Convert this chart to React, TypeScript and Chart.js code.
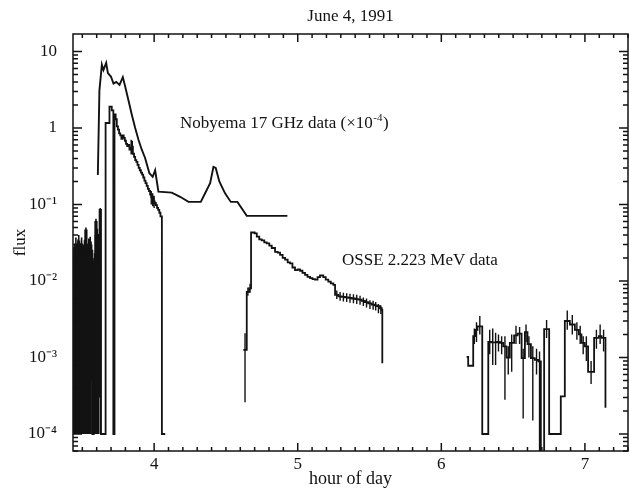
import React, { useEffect, useRef } from 'react';
import { Chart, registerables } from 'chart.js';

Chart.register(...registerables);

const FONT = '"Liberation Serif", "Times New Roman", serif';
const INK = '#121212';

// axis ranges and ticks
const xMin = 3.435;
const xMax = 7.3;
const yMin = 6.0e-5;
const yMax = 16.9;
const xTickValues = [4, 5, 6, 7];
const xTickLabels = ['4', '5', '6', '7'];
const yTickValues = [1e-4, 1e-3, 1e-2, 1e-1, 1, 10];
const yTickLabels = ['10⁻⁴', '10⁻³', '10⁻²', '10⁻¹', '1', '10'];

// Nobeyama 17 GHz (x1e-4)
const nobHours = [3.608, 3.619, 3.636, 3.647, 3.666, 3.678, 3.699, 3.717, 3.736, 3.759, 3.782, 3.798, 3.821, 3.845, 3.868, 3.891, 3.914, 3.937, 3.967, 3.990, 4.007, 4.030, 4.123, 4.181, 4.239, 4.325, 4.355, 4.390, 4.413, 4.429, 4.454, 4.494, 4.534, 4.580, 4.645, 4.928];
const nobFlux = [0.243, 3.1, 6.7, 5.7, 7.1, 5.2, 4.7, 3.8, 4.0, 3.65, 4.6, 3.5, 2.3, 1.48, 1.0, 0.70, 0.52, 0.405, 0.256, 0.23, 0.28, 0.147, 0.143, 0.126, 0.108, 0.108, 0.14, 0.19, 0.31, 0.30, 0.20, 0.14, 0.108, 0.108, 0.071, 0.071];

// OSSE 2.223 MeV (bin starts, step histogram)
const osseEarlyHours = [3.44, 3.45, 3.46, 3.47, 3.48, 3.49, 3.50, 3.51, 3.52, 3.53, 3.54, 3.55, 3.56, 3.57, 3.58, 3.59, 3.60, 3.61, 3.62, 3.63, 3.662, 3.689, 3.705, 3.716, 3.724, 3.732, 3.740, 3.748, 3.756, 3.764, 3.772, 3.780, 3.788, 3.796, 3.804, 3.812, 3.820, 3.828, 3.836, 3.844, 3.852, 3.860, 3.868, 3.876, 3.884, 3.892, 3.900, 3.908, 3.916, 3.924, 3.932, 3.940, 3.948, 3.956, 3.964, 3.972, 3.980, 3.988, 3.996, 4.004, 4.012, 4.020, 4.028, 4.036, 4.044, 4.054, 4.077];
const osseEarlyFlux = [0.012, 0.03, 0.02, 0.033, 0.025, 0.03, 0.018, 0.028, 0.046, 0.022, 0.03, 0.032, 0.025, 1e-4, 0.018, 0.059, 0.04, 0.02, 0.085, 1e-4, 1.16, 1.9, 1.7, 1e-4, 1.5, 1.3, 1.05, 0.95, 0.85, 0.80, 0.72, 0.80, 0.74, 0.68, 0.62, 0.58, 0.60, 0.52, 0.55, 0.57, 0.46, 0.42, 0.38, 0.36, 0.33, 0.30, 0.28, 0.26, 0.245, 0.225, 0.205, 0.19, 0.175, 0.16, 0.15, 0.135, 0.125, 0.118, 0.11, 0.105, 0.098, 0.09, 0.085, 0.078, 0.07, 1e-4, 1e-4];

const osseMidHours = [4.621, 4.645, 4.661, 4.675, 4.700, 4.715, 4.732, 4.749, 4.767, 4.784, 4.802, 4.819, 4.842, 4.860, 4.877, 4.895, 4.912, 4.930, 4.946, 4.963, 4.981, 5.000, 5.016, 5.033, 5.051, 5.068, 5.086, 5.103, 5.120, 5.138, 5.155, 5.178, 5.195, 5.213, 5.230, 5.248, 5.260, 5.283, 5.306, 5.329, 5.352, 5.376, 5.400, 5.422, 5.445, 5.468, 5.490, 5.515, 5.535, 5.550, 5.573, 5.585, 5.589];
const osseMidFlux = [1.26e-3, 7.2e-3, 8.0e-3, 0.043, 0.042, 0.038, 0.035, 0.034, 0.032, 0.031, 0.029, 0.027, 0.024, 0.0235, 0.022, 0.020, 0.019, 0.0175, 0.017, 0.015, 0.0139, 0.0142, 0.0136, 0.0128, 0.012, 0.0113, 0.0109, 0.0106, 0.0104, 0.0112, 0.0118, 0.0112, 0.0104, 0.0098, 0.0093, 0.0089, 0.0066, 0.0063, 0.0062, 0.0061, 0.006, 0.0059, 0.0058, 0.0057, 0.0055, 0.0053, 0.0051, 0.0049, 0.0048, 0.0047, 0.0044, 0.0042, 8.4e-4];

const osseLateHours = [6.176, 6.187, 6.222, 6.239, 6.252, 6.285, 6.327, 6.348, 6.368, 6.388, 6.408, 6.431, 6.454, 6.477, 6.507, 6.531, 6.559, 6.582, 6.600, 6.624, 6.651, 6.675, 6.693, 6.716, 6.751, 6.832, 6.860, 6.895, 6.930, 6.958, 6.976, 6.999, 7.022, 7.064, 7.097, 7.116, 7.143];
const osseLateFlux = [1.02e-3, 7.8e-4, 1.9e-3, 2.3e-3, 2.55e-3, 1e-4, 1.6e-3, 1.58e-3, 1.58e-3, 1.6e-3, 1.55e-3, 1.4e-3, 1.0e-3, 1.55e-3, 1.95e-3, 2.05e-3, 9.8e-4, 2.15e-3, 1.5e-3, 9.8e-4, 9.3e-4, 8.9e-4, 3e-5, 2.35e-3, 1e-4, 3.1e-4, 3.0e-3, 2.7e-3, 2.3e-3, 2.0e-3, 1.55e-3, 1.4e-3, 6.5e-4, 1.8e-3, 1.9e-3, 1.8e-3, 2.2e-4];

// OSSE error bars, noisy pre-flare bins
const noiseErrHours = [3.441, 3.445, 3.449, 3.455, 3.461, 3.465, 3.471, 3.475, 3.481, 3.485, 3.491, 3.495, 3.501, 3.505, 3.511, 3.515, 3.521, 3.525, 3.531, 3.535, 3.541, 3.545, 3.551, 3.555, 3.561, 3.565, 3.581, 3.585, 3.591, 3.595, 3.601, 3.605, 3.611, 3.615, 3.625];
const noiseErrLow = [1e-4, 1e-4, 1e-4, 1e-4, 1e-4, 2.5e-3, 1e-4, 1e-4, 1e-4, 1e-4, 1e-4, 1e-4, 1e-4, 8e-4, 1e-4, 1e-4, 1e-4, 1e-4, 1e-4, 1e-4, 1e-4, 1e-4, 1e-4, 1e-4, 1e-4, 5e-4, 1e-4, 1e-4, 1e-4, 1e-4, 1e-4, 1e-4, 1e-4, 3e-4, 1e-4];
const noiseErrHigh = [0.028, 0.016, 0.03, 0.037, 0.028, 0.026, 0.035, 0.04, 0.03, 0.031, 0.03, 0.037, 0.025, 0.023, 0.03, 0.034, 0.035, 0.05, 0.027, 0.028, 0.03, 0.036, 0.033, 0.038, 0.029, 0.03, 0.02, 0.023, 0.04, 0.065, 0.04, 0.048, 0.022, 0.025, 0.09];

// OSSE error bars, flare and late bins
const errHours = [3.84, 3.848, 3.98, 3.99, 4.0, 4.633, 4.653, 4.668, 5.272, 5.295, 5.318, 5.341, 5.364, 5.388, 5.411, 5.434, 5.457, 5.479, 5.503, 5.525, 5.543, 5.562, 5.579, 6.230, 6.245, 6.268, 6.337, 6.358, 6.378, 6.398, 6.420, 6.443, 6.466, 6.490, 6.520, 6.545, 6.570, 6.590, 6.610, 6.637, 6.663, 6.684, 6.733, 6.877, 6.912, 6.944, 6.967, 6.988, 7.010, 7.043, 7.080, 7.106, 7.130];
const errLow = [0.45, 0.46, 0.10, 0.095, 0.09, 2.6e-4, 6.4e-3, 7.0e-3, 0.0058, 0.0055, 0.0054, 0.0053, 0.0052, 0.0051, 0.0050, 0.0049, 0.0047, 0.0045, 0.0043, 0.0042, 0.0041, 0.0038, 0.0037, 1.5e-3, 1.6e-3, 2.0e-3, 1.1e-3, 8e-4, 8e-4, 1.2e-3, 1.1e-3, 2.8e-4, 6e-4, 6.5e-4, 1.5e-3, 1.5e-3, 1.6e-4, 1.6e-3, 1.0e-3, 1.5e-4, 6e-4, 5e-5, 1.8e-3, 2.3e-3, 2.0e-3, 1.7e-3, 1.5e-3, 1.1e-3, 9e-4, 4.5e-4, 1.3e-3, 1.5e-3, 1.2e-3];
const errHigh = [0.7, 0.68, 0.15, 0.14, 0.13, 2.07e-3, 8.2e-3, 9.2e-3, 0.0075, 0.0072, 0.0070, 0.0069, 0.0068, 0.0067, 0.0066, 0.0064, 0.0061, 0.0059, 0.0056, 0.0055, 0.0053, 0.0050, 0.0048, 2.4e-3, 2.9e-3, 3.5e-3, 2.3e-3, 2.4e-3, 2.1e-3, 2.0e-3, 1.9e-3, 1.9e-3, 1.4e-3, 2.0e-3, 2.6e-3, 2.5e-3, 1.3e-3, 2.7e-3, 1.9e-3, 1.4e-3, 1.3e-3, 1.2e-3, 3.1e-3, 4.1e-3, 3.6e-3, 2.9e-3, 2.6e-3, 1.9e-3, 1.9e-3, 9e-4, 2.3e-3, 2.7e-3, 2.3e-3];

const pts = (xs: number[], ys: number[]) => xs.map((x, i) => ({ x, y: ys[i] }));

const barPoints = (hs: number[], lo: number[], hi: number[]) => {
  const out: any[] = [];
  hs.forEach((h, i) => {
    out.push({ x: h, y: lo[i] }, { x: h, y: hi[i] }, { x: h, y: null });
  });
  return out;
};

function drawWithSup(ctx: CanvasRenderingContext2D, x: number, y: number, main: string, sup: string, tail: string) {
  ctx.font = `17px ${FONT}`;
  ctx.fillText(main, x, y);
  let w = ctx.measureText(main).width;
  ctx.font = `11px ${FONT}`;
  ctx.fillText(sup, x + w + 0.5, y - 7);
  w += ctx.measureText(sup).width + 1;
  ctx.font = `17px ${FONT}`;
  ctx.fillText(tail, x + w, y);
}

const framePlugin = {
  id: 'frameTicks',
  afterDatasetsDraw(chart: any) {
    const { ctx, chartArea: a, scales } = chart;
    const xs = scales.x;
    const ys = scales.y;
    ctx.save();
    ctx.strokeStyle = INK;
    ctx.lineWidth = 1.5;
    ctx.strokeRect(a.left, a.top, a.right - a.left, a.bottom - a.top);
    ctx.beginPath();
    for (let i = Math.ceil(xMin * 10); i <= Math.floor(xMax * 10); i++) {
      const px = xs.getPixelForValue(i / 10);
      const len = i % 10 === 0 ? 8 : 4;
      ctx.moveTo(px, a.bottom);
      ctx.lineTo(px, a.bottom - len);
      ctx.moveTo(px, a.top);
      ctx.lineTo(px, a.top + len);
    }
    for (let e = -5; e <= 1; e++) {
      for (let m = 1; m <= 9; m++) {
        const v = m * Math.pow(10, e);
        if (v < yMin || v > yMax) continue;
        const py = ys.getPixelForValue(v);
        const len = m === 1 ? 9 : 5;
        ctx.moveTo(a.left, py);
        ctx.lineTo(a.left + len, py);
        ctx.moveTo(a.right, py);
        ctx.lineTo(a.right - len, py);
      }
    }
    ctx.stroke();

    ctx.fillStyle = INK;
    ctx.textAlign = 'left';
    ctx.textBaseline = 'alphabetic';
    drawWithSup(ctx, xs.getPixelForValue(4.18), ys.getPixelForValue(1.0), 'Nobyema 17 GHz data (×10', '-4', ')');
    ctx.font = `17px ${FONT}`;
    ctx.fillText('OSSE 2.223 MeV data', xs.getPixelForValue(5.308), ys.getPixelForValue(0.0162));
    ctx.restore();
  },
};

export default function App() {
  const ref = useRef<HTMLCanvasElement>(null);
  useEffect(() => {
    const stepStyle = {
      borderColor: INK,
      borderWidth: 1.8,
      pointRadius: 0,
      stepped: 'before' as const,
      fill: false,
    };
    const chart = new Chart(ref.current as HTMLCanvasElement, {
      type: 'line',
      data: {
        datasets: [
          { label: 'Nobeyama 17 GHz', data: pts(nobHours, nobFlux), borderColor: INK, borderWidth: 1.9, pointRadius: 0, tension: 0, fill: false },
          { label: 'OSSE early', data: pts(osseEarlyHours, osseEarlyFlux), ...stepStyle },
          { label: 'OSSE mid', data: pts(osseMidHours, osseMidFlux), ...stepStyle },
          { label: 'OSSE late', data: pts(osseLateHours, osseLateFlux), ...stepStyle },
          { label: 'OSSE noise errors', data: barPoints(noiseErrHours, noiseErrLow, noiseErrHigh), borderColor: INK, borderWidth: 1.6, pointRadius: 0, spanGaps: false, fill: false },
          { label: 'OSSE errors', data: barPoints(errHours, errLow, errHigh), borderColor: INK, borderWidth: 1.4, pointRadius: 0, spanGaps: false, fill: false },
        ],
      },
      options: {
        animation: false,
        responsive: false,
        events: [],
        layout: { padding: { left: 0, right: 2, top: 0, bottom: 0 } },
        plugins: {
          legend: { display: false },
          tooltip: { enabled: false },
          title: {
            display: true,
            text: 'June 4, 1991',
            fullSize: false,
            color: INK,
            font: { family: FONT, size: 17, weight: 'normal' },
            padding: { top: 6, bottom: 7.6 },
          },
        },
        scales: {
          x: {
            type: 'linear',
            min: xMin,
            max: xMax,
            afterBuildTicks: (s: any) => {
              s.ticks = xTickValues.map((v) => ({ value: v }));
            },
            afterFit: (s: any) => {
              s.height = 40;
            },
            grid: { display: false, drawTicks: false },
            border: { display: false },
            ticks: {
              color: INK,
              padding: 3,
              font: { family: FONT, size: 17 },
              callback: (_v: any, i: number) => xTickLabels[i],
              maxRotation: 0,
            },
            title: {
              display: true,
              text: 'hour of day',
              color: INK,
              font: { family: FONT, size: 18 },
              padding: { top: 0, bottom: 1 },
            },
          },
          y: {
            type: 'logarithmic',
            min: yMin,
            max: yMax,
            afterBuildTicks: (s: any) => {
              s.ticks = yTickValues.map((v) => ({ value: v }));
            },
            afterFit: (s: any) => {
              s.width = 73;
            },
            grid: { display: false, drawTicks: false },
            border: { display: false },
            ticks: {
              color: INK,
              padding: 16,
              font: { family: FONT, size: 17 },
              callback: (_v: any, i: number) => yTickLabels[i],
            },
            title: {
              display: true,
              text: 'flux',
              color: INK,
              font: { family: FONT, size: 17 },
              padding: { top: 10, bottom: 0 },
            },
          },
        },
      },
      plugins: [framePlugin],
    } as any);
    return () => chart.destroy();
  }, []);
  return (
    <div style={{ position: 'fixed', left: 0, top: 0, width: 630, height: 491, background: '#fff' }}>
      <canvas ref={ref} width={630} height={491} style={{ display: 'block' }} />
    </div>
  );
}
